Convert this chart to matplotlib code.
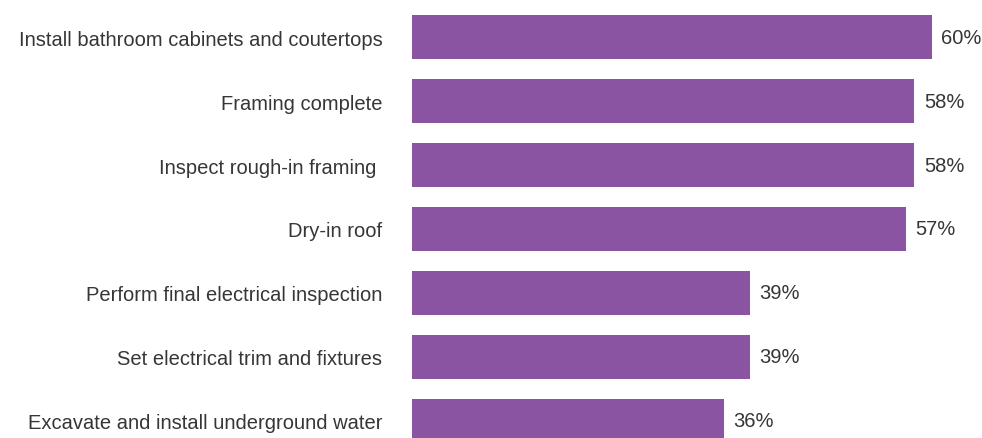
import matplotlib.pyplot as plt

# task names and share of projects (%)
tasks = [
    'Install bathroom cabinets and coutertops',
    'Framing complete',
    'Inspect rough-in framing ',
    'Dry-in roof',
    'Perform final electrical inspection',
    'Set electrical trim and fixtures',
    'Excavate and install underground water',
]
shares = [60, 58, 58, 57, 39, 39, 36]

bar_color = '#8a54a2'
text_color = '#363636'

plt.rcParams['font.family'] = ['Liberation Sans', 'DejaVu Sans']

fig = plt.figure(figsize=(9.82, 4.39), dpi=100)
ax = fig.add_axes([0.4192, 0.0, 0.5737, 1.0])

positions = list(range(len(tasks)))
bars = ax.barh(positions, shares, height=0.69, color=bar_color)

# percentage labels at the end of each bar
ax.bar_label(bars, labels=[f'{v}%' for v in shares], padding=7,
             fontsize=14.5, color=text_color)

ax.set_yticks(positions)
ax.set_yticklabels(tasks, fontsize=14.5, color=text_color)
ax.tick_params(axis='y', length=0, pad=21)

ax.set_xlim(0, 65)
ax.set_ylim(6.266, -0.594)
ax.set_xticks([])
for side in ax.spines.values():
    side.set_visible(False)

plt.savefig('out.png', dpi=100)
